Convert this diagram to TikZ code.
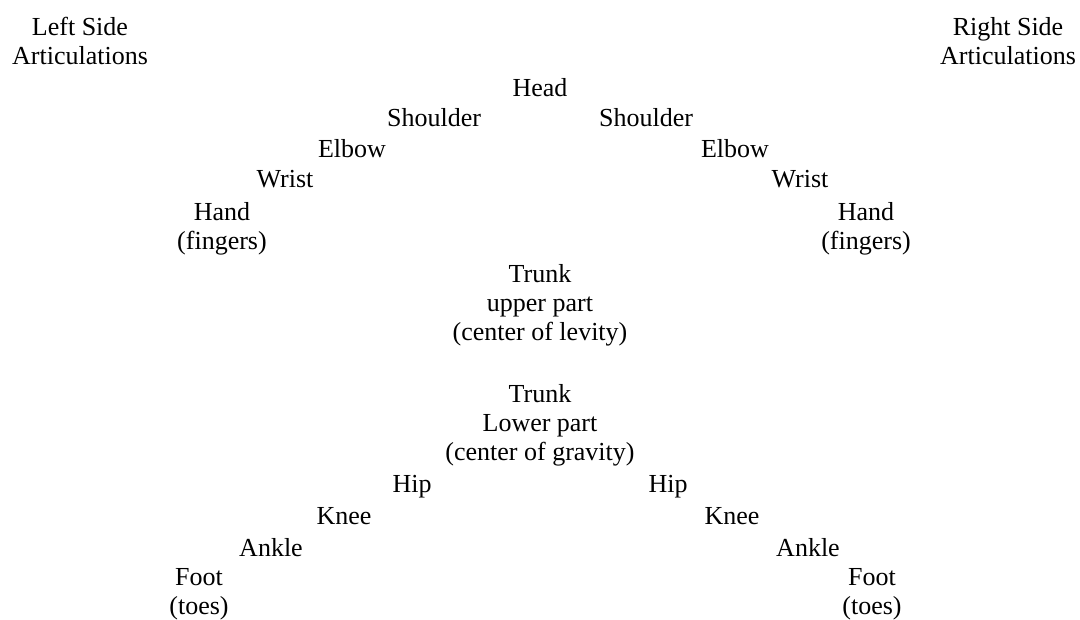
\documentclass[tikz,border=0pt]{standalone}
\usepackage{fontspec}
\setmainfont{Liberation Serif}
\begin{document}
\begin{tikzpicture}[x=0.75pt,y=-0.75pt,
  part/.style={inner sep=0pt,outer sep=0pt,align=center,anchor=base,
    font=\fontsize{19.5}{21.75}\selectfont}]
\useasboundingbox (0,0) rectangle (1080,619);
% side headings (base anchor sits on the last line)
\node[part] (lside) at (80,64) {Left Side\\Articulations};
\node[part] (rside) at (1008,64) {Right Side\\Articulations};
% upper body
\node[part] (head) at (540,96) {Head};
\node[part] (lshoulder) at (434,126) {Shoulder};
\node[part] (rshoulder) at (646,126) {Shoulder};
\node[part] (lelbow) at (352,157) {Elbow};
\node[part] (relbow) at (735,157) {Elbow};
\node[part] (lwrist) at (285,187) {Wrist};
\node[part] (rwrist) at (800,187) {Wrist};
\node[part] (lhand) at (222,249) {Hand\\(fingers)};
\node[part] (rhand) at (866,249) {Hand\\(fingers)};
% trunk
\node[part] (upper) at (540,340) {Trunk\\upper part\\(center of levity)};
\node[part] (lower) at (540,460) {Trunk\\Lower part\\(center of gravity)};
% lower body
\node[part] (lhip) at (412,492) {Hip};
\node[part] (rhip) at (668,492) {Hip};
\node[part] (lknee) at (344,524) {Knee};
\node[part] (rknee) at (732,524) {Knee};
\node[part] (lankle) at (271,556) {Ankle};
\node[part] (rankle) at (808,556) {Ankle};
\node[part] (lfoot) at (199,614) {Foot\\(toes)};
\node[part] (rfoot) at (872,614) {Foot\\(toes)};
\end{tikzpicture}
\end{document}
